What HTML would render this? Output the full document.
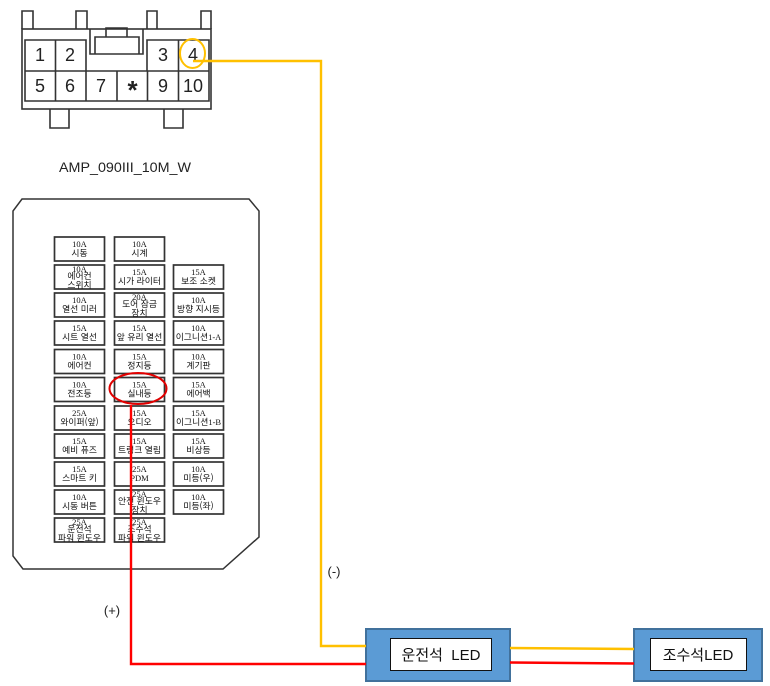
<!DOCTYPE html>
<html lang="ko"><head><meta charset="utf-8"><style>
html,body{margin:0;padding:0;background:#fff;width:770px;height:686px;overflow:hidden}
svg{display:block}
.f{fill:#fff;stroke:#333;stroke-width:1.7}
.a{font:8.5px "Liberation Serif",serif;fill:#111;text-anchor:middle}
.k{font:8.8px "Noto Sans CJK KR","Liberation Sans",sans-serif;fill:#111;text-anchor:middle}
.n{font:18px "Liberation Sans",sans-serif;fill:#222;text-anchor:middle}
.c{fill:none;stroke:#333;stroke-width:1.6}
.l{font:15px "Liberation Sans","Noto Sans CJK KR",sans-serif;fill:#111;text-anchor:middle}
</style></head><body>
<svg width="770" height="686" viewBox="0 0 770 686" xmlns="http://www.w3.org/2000/svg">
<!-- Connector -->
<g class="c">
<path d="M22 29V11H33V29M76 29V11H87V29M147 29V11H157V29M201 29V11H211V29"/>
<rect x="22" y="29" width="189" height="80"/>
<path d="M50 109V128H69V109M164 109V128H183V109"/>
<path d="M90 29V54H143V29M95 54V37H139V54M106 37V28H127V37"/>
<path d="M25 71V40H86V71M147 71V40H209V71M25 71H209V101H25V71M55.500 40V101M86 71V101M117 71V101M147.500 71V101M178.500 40V101"/>
</g>
<g class="n">
<text x="40" y="61">1</text><text x="70" y="61">2</text><text x="163" y="61">3</text><text x="193" y="61">4</text>
<text x="40" y="92">5</text><text x="70" y="92">6</text><text x="101" y="92">7</text><text x="132.500" y="99" style="font-size:26px;font-weight:bold">*</text><text x="163" y="92">9</text><text x="193" y="92">10</text>
</g>
<text x="125" y="172" style="font:14px 'Liberation Sans',sans-serif;fill:#222;text-anchor:middle" textLength="132" lengthAdjust="spacingAndGlyphs">AMP_090III_10M_W</text>
<!-- Panel -->
<path d="M22 199H249L259 211V537L223 569H23L13 556V211Z" fill="#fff" stroke="#333" stroke-width="1.500"/>
<!-- Fuses -->
<g class="f">
<rect x="54.500" y="237" width="50" height="24"/><rect x="114.500" y="237" width="50" height="24"/>
<rect x="54.500" y="265" width="50" height="24"/><rect x="114.500" y="265" width="50" height="24"/><rect x="173.500" y="265" width="50" height="24"/>
<rect x="54.500" y="293" width="50" height="24"/><rect x="114.500" y="293" width="50" height="24"/><rect x="173.500" y="293" width="50" height="24"/>
<rect x="54.500" y="321" width="50" height="24"/><rect x="114.500" y="321" width="50" height="24"/><rect x="173.500" y="321" width="50" height="24"/>
<rect x="54.500" y="349.500" width="50" height="24"/><rect x="114.500" y="349.500" width="50" height="24"/><rect x="173.500" y="349.500" width="50" height="24"/>
<rect x="54.500" y="377.500" width="50" height="24"/><rect x="114.500" y="377.500" width="50" height="24"/><rect x="173.500" y="377.500" width="50" height="24"/>
<rect x="54.500" y="406" width="50" height="24"/><rect x="114.500" y="406" width="50" height="24"/><rect x="173.500" y="406" width="50" height="24"/>
<rect x="54.500" y="434" width="50" height="24"/><rect x="114.500" y="434" width="50" height="24"/><rect x="173.500" y="434" width="50" height="24"/>
<rect x="54.500" y="462" width="50" height="24"/><rect x="114.500" y="462" width="50" height="24"/><rect x="173.500" y="462" width="50" height="24"/>
<rect x="54.500" y="490" width="50" height="24"/><rect x="114.500" y="490" width="50" height="24"/><rect x="173.500" y="490" width="50" height="24"/>
<rect x="54.500" y="518" width="50" height="24"/><rect x="114.500" y="518" width="50" height="24"/>
</g>
<g class="a">
<text x="79.500" y="247">10A</text><text x="139.500" y="247">10A</text>
<text x="79.500" y="272">10A</text><text x="139.500" y="275">15A</text><text x="198.500" y="275">15A</text>
<text x="79.500" y="303">10A</text><text x="139.500" y="300">20A</text><text x="198.500" y="303">10A</text>
<text x="79.500" y="331">15A</text><text x="139.500" y="331">15A</text><text x="198.500" y="331">10A</text>
<text x="79.500" y="359.500">10A</text><text x="139.500" y="359.500">15A</text><text x="198.500" y="359.500">10A</text>
<text x="79.500" y="387.500">10A</text><text x="139.500" y="387.500">15A</text><text x="198.500" y="387.500">15A</text>
<text x="79.500" y="416">25A</text><text x="139.500" y="416">15A</text><text x="198.500" y="416">15A</text>
<text x="79.500" y="444">15A</text><text x="139.500" y="444">15A</text><text x="198.500" y="444">15A</text>
<text x="79.500" y="472">15A</text><text x="139.500" y="472">25A</text><text x="198.500" y="472">10A</text>
<text x="79.500" y="500">10A</text><text x="139.500" y="497">25A</text><text x="198.500" y="500">10A</text>
<text x="79.500" y="525">25A</text><text x="139.500" y="525">25A</text>
</g>
<g class="k">
<text x="79.500" y="256">시동</text><text x="139.500" y="256">시계</text>
<text x="79.500" y="279">에어컨</text><text x="79.500" y="288">스위치</text><text x="139.500" y="284">시가 라이터</text><text x="198.500" y="284">보조 소켓</text>
<text x="79.500" y="312">열선 미러</text><text x="139.500" y="307">도어 잠금</text><text x="139.500" y="316">장치</text><text x="198.500" y="312">방향 지시등</text>
<text x="79.500" y="340">시트 열선</text><text x="139.500" y="340">앞 유리 열선</text><text x="198.500" y="340">이그니션<tspan style="font:8.500px 'Liberation Serif',serif">1-A</tspan></text>
<text x="79.500" y="368.500">에어컨</text><text x="139.500" y="368.500">정지등</text><text x="198.500" y="368.500">계기판</text>
<text x="79.500" y="396.500">전조등</text><text x="139.500" y="396.500">실내등</text><text x="198.500" y="396.500">에어백</text>
<text x="79.500" y="425">와이퍼(앞)</text><text x="139.500" y="425">오디오</text><text x="198.500" y="425">이그니션<tspan style="font:8.500px 'Liberation Serif',serif">1-B</tspan></text>
<text x="79.500" y="453">예비 퓨즈</text><text x="139.500" y="453">트렁크 열림</text><text x="198.500" y="453">비상등</text>
<text x="79.500" y="481">스마트 키</text><text x="139.500" y="481" style="font:8.500px 'Liberation Serif',serif">PDM</text><text x="198.500" y="481">미등(우)</text>
<text x="79.500" y="509">시동 버튼</text><text x="139.500" y="504">안전 윈도우</text><text x="139.500" y="513">장치</text><text x="198.500" y="509">미등(좌)</text>
<text x="79.500" y="532">운전석</text><text x="79.500" y="541">파워 윈도우</text><text x="139.500" y="532">조수석</text><text x="139.500" y="541">파워 윈도우</text>
</g>
<!-- LED boxes -->
<rect x="366" y="629" width="144" height="52" fill="#5b9bd5" stroke="#41719c" stroke-width="2"/>
<rect x="390.500" y="638.500" width="101" height="32" fill="#fff" stroke="#111" stroke-width="1"/>
<rect x="634" y="629" width="128" height="52" fill="#5b9bd5" stroke="#41719c" stroke-width="2"/>
<rect x="650.500" y="638.500" width="96" height="32" fill="#fff" stroke="#111" stroke-width="1"/>
<text x="441" y="660" class="l" xml:space="preserve">운전석  LED</text>
<text x="698" y="660" class="l">조수석LED</text>
<!-- Wires -->
<g fill="none" stroke-width="2.400">
<path d="M193 61H321V646H366M510 648L634 649" stroke="#ffc000"/>
<path d="M131 405V664H366M510 662.500L634 663.500" stroke="#f00"/>
</g>
<ellipse cx="192.500" cy="53.500" rx="12.500" ry="14.500" fill="none" stroke="#ffc000" stroke-width="2"/>
<ellipse cx="138" cy="388.500" rx="28.500" ry="15.500" fill="none" stroke="#e00000" stroke-width="2"/>
<text x="334" y="576" style="font:13px 'Liberation Sans',sans-serif;fill:#222;text-anchor:middle">(-)</text>
<text x="112" y="615" style="font:13px 'Liberation Sans',sans-serif;fill:#222;text-anchor:middle">(+)</text>
</svg>
</body></html>
